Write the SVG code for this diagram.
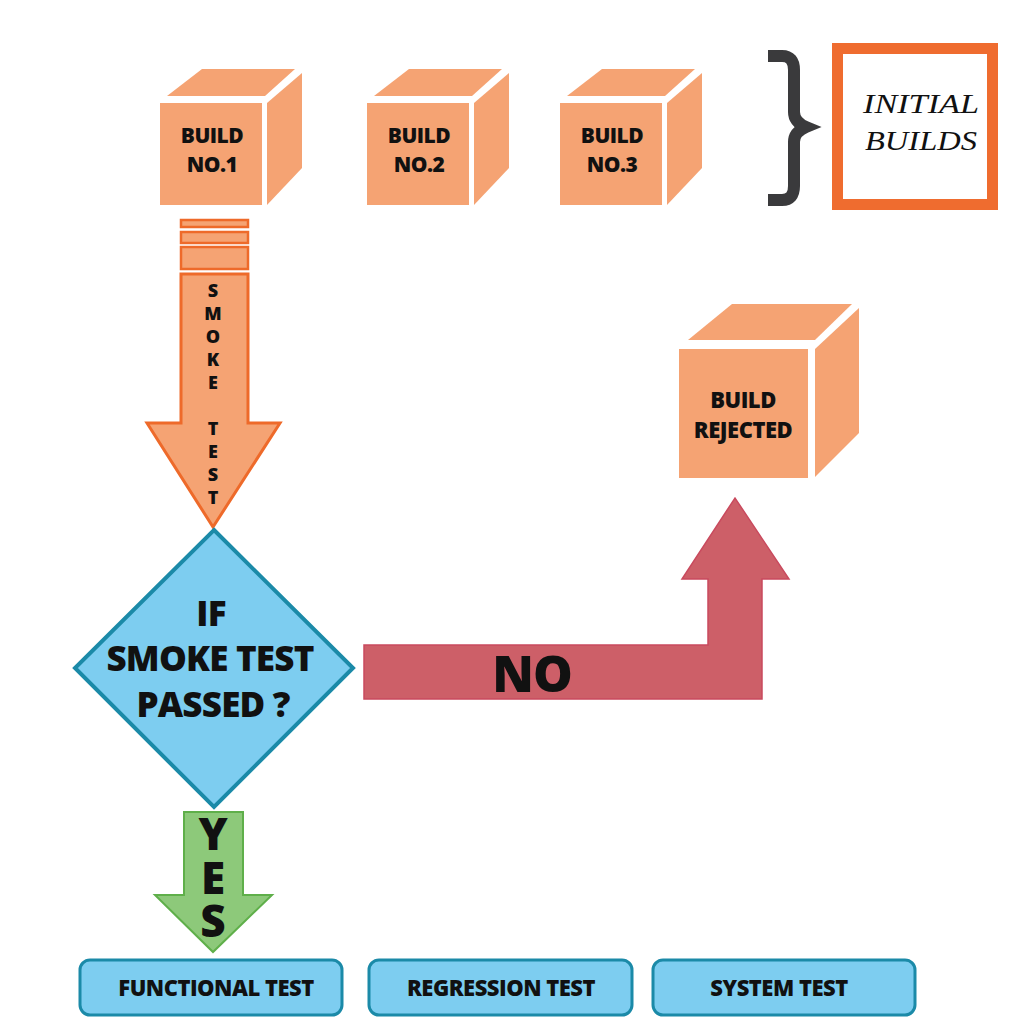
<svg xmlns="http://www.w3.org/2000/svg" width="1024" height="1024" viewBox="0 0 1024 1024">
<style>
.cf{fill:#F5A373}
.bt{font-family:"Open Sans","Liberation Sans",sans-serif;font-weight:800;fill:#111;text-anchor:middle}
.box{fill:#7DCDF0;stroke:#1B8AA8;stroke-width:3}
</style>
<rect width="1024" height="1024" fill="#fff"/>
<g id="build1">
<rect class="cf" x="160" y="103" width="102" height="102"/>
<polygon class="cf" points="167,96 202,69 295,69 265,96"/>
<polygon class="cf" points="267,103 302,73 302,168 267,205"/>
<text class="bt" x="212" y="143" font-size="21" letter-spacing="-0.5">BUILD</text>
<text class="bt" x="212" y="172" font-size="21" letter-spacing="-0.5">NO.1</text>
</g>
<g id="build2">
<rect class="cf" x="367" y="103" width="102" height="102"/>
<polygon class="cf" points="374,96 409,69 502,69 472,96"/>
<polygon class="cf" points="474,103 509,73 509,168 474,205"/>
<text class="bt" x="419" y="143" font-size="21" letter-spacing="-0.5">BUILD</text>
<text class="bt" x="419" y="172" font-size="21" letter-spacing="-0.5">NO.2</text>
</g>
<g id="build3">
<rect class="cf" x="560" y="103" width="102" height="102"/>
<polygon class="cf" points="567,96 602,69 695,69 665,96"/>
<polygon class="cf" points="667,103 702,73 702,168 667,205"/>
<text class="bt" x="612" y="143" font-size="21" letter-spacing="-0.5">BUILD</text>
<text class="bt" x="612" y="172" font-size="21" letter-spacing="-0.5">NO.3</text>
</g>
<g id="initial-builds">
<path d="M768,56 H782 Q794,56 794,70 V112 Q794,122 806,127 Q794,132 794,142 V186 Q794,200 782,200 H768" fill="none" stroke="#3A3A3C" stroke-width="12"/>
<rect x="837.5" y="48.5" width="155" height="156" fill="#fff" stroke="#EF6C2F" stroke-width="11"/>
<text x="921" y="113" font-family="Liberation Serif,serif" font-style="italic" font-size="28" text-anchor="middle" fill="#111" textLength="116" lengthAdjust="spacingAndGlyphs">INITIAL</text>
<text x="921" y="150" font-family="Liberation Serif,serif" font-style="italic" font-size="28" text-anchor="middle" fill="#111" textLength="112" lengthAdjust="spacingAndGlyphs">BUILDS</text>
</g>
<g id="build-rejected">
<rect class="cf" x="679" y="349" width="129" height="129"/>
<polygon class="cf" points="688,340 732,304 852,304 815,340"/>
<polygon class="cf" points="815,349 859,308 859,433 815,477"/>
<text class="bt" x="743" y="408" font-size="22" letter-spacing="-0.5">BUILD</text>
<text class="bt" x="743" y="438" font-size="22" letter-spacing="-0.5">REJECTED</text>
</g>
<g id="connectors">
<g id="smoke-test-arrow" fill="#F5A373" stroke="#EE6A2A" stroke-width="2.5">
<rect x="181" y="220" width="67" height="7"/>
<rect x="181" y="232" width="67" height="11"/>
<rect x="181" y="247" width="67" height="22"/>
<polygon points="181,274 248,274 248,423 280,423 213,527 147,423 181,423" stroke-width="3"/>
<text class="bt" font-size="18" stroke="none"><tspan x="213" y="297">S</tspan><tspan x="213" y="320">M</tspan><tspan x="213" y="343">O</tspan><tspan x="213" y="366">K</tspan><tspan x="213" y="389">E</tspan><tspan x="213" y="435">T</tspan><tspan x="213" y="458">E</tspan><tspan x="213" y="481">S</tspan><tspan x="213" y="504">T</tspan></text>
</g>
<g id="no-arrow">
<polygon points="364,645 708,645 708,579 682,579 735,498 789,579 762,579 762,699 364,699" fill="#CD5F68" stroke="#C94A5E" stroke-width="1.5"/>
<text class="bt" x="532" y="692" font-size="50" letter-spacing="-1">NO</text>
</g>
<g id="yes-arrow">
<polygon points="184,812 243,812 243,895 272,895 213,952 155,895 184,895" fill="#8DC97A" stroke="#5FAF4A" stroke-width="2"/>
<text class="bt" font-size="44"><tspan x="213" y="850">Y</tspan><tspan x="213" y="894">E</tspan><tspan x="213" y="937">S</tspan></text>
</g>
</g>
<g id="decision">
<polygon points="214,530 353,668 214,807 75,668" fill="#7DCDF0" stroke="#1B8AA8" stroke-width="4"/>
<text class="bt" font-size="35" letter-spacing="-0.8"><tspan x="211" y="626">IF</tspan><tspan x="210" y="671">SMOKE TEST</tspan><tspan x="213" y="717">PASSED ?</tspan></text>
</g>
<g id="functional-test">
<rect class="box" x="80" y="960" width="262" height="55" rx="10"/>
<text class="bt" x="216" y="996" font-size="22" letter-spacing="-0.5">FUNCTIONAL TEST</text>
</g>
<g id="regression-test">
<rect class="box" x="369" y="960" width="263" height="55" rx="10"/>
<text class="bt" x="501" y="996" font-size="22" letter-spacing="-0.5">REGRESSION TEST</text>
</g>
<g id="system-test">
<rect class="box" x="653" y="960" width="262" height="55" rx="10"/>
<text class="bt" x="779" y="996" font-size="22" letter-spacing="-0.5">SYSTEM TEST</text>
</g>
</svg>
